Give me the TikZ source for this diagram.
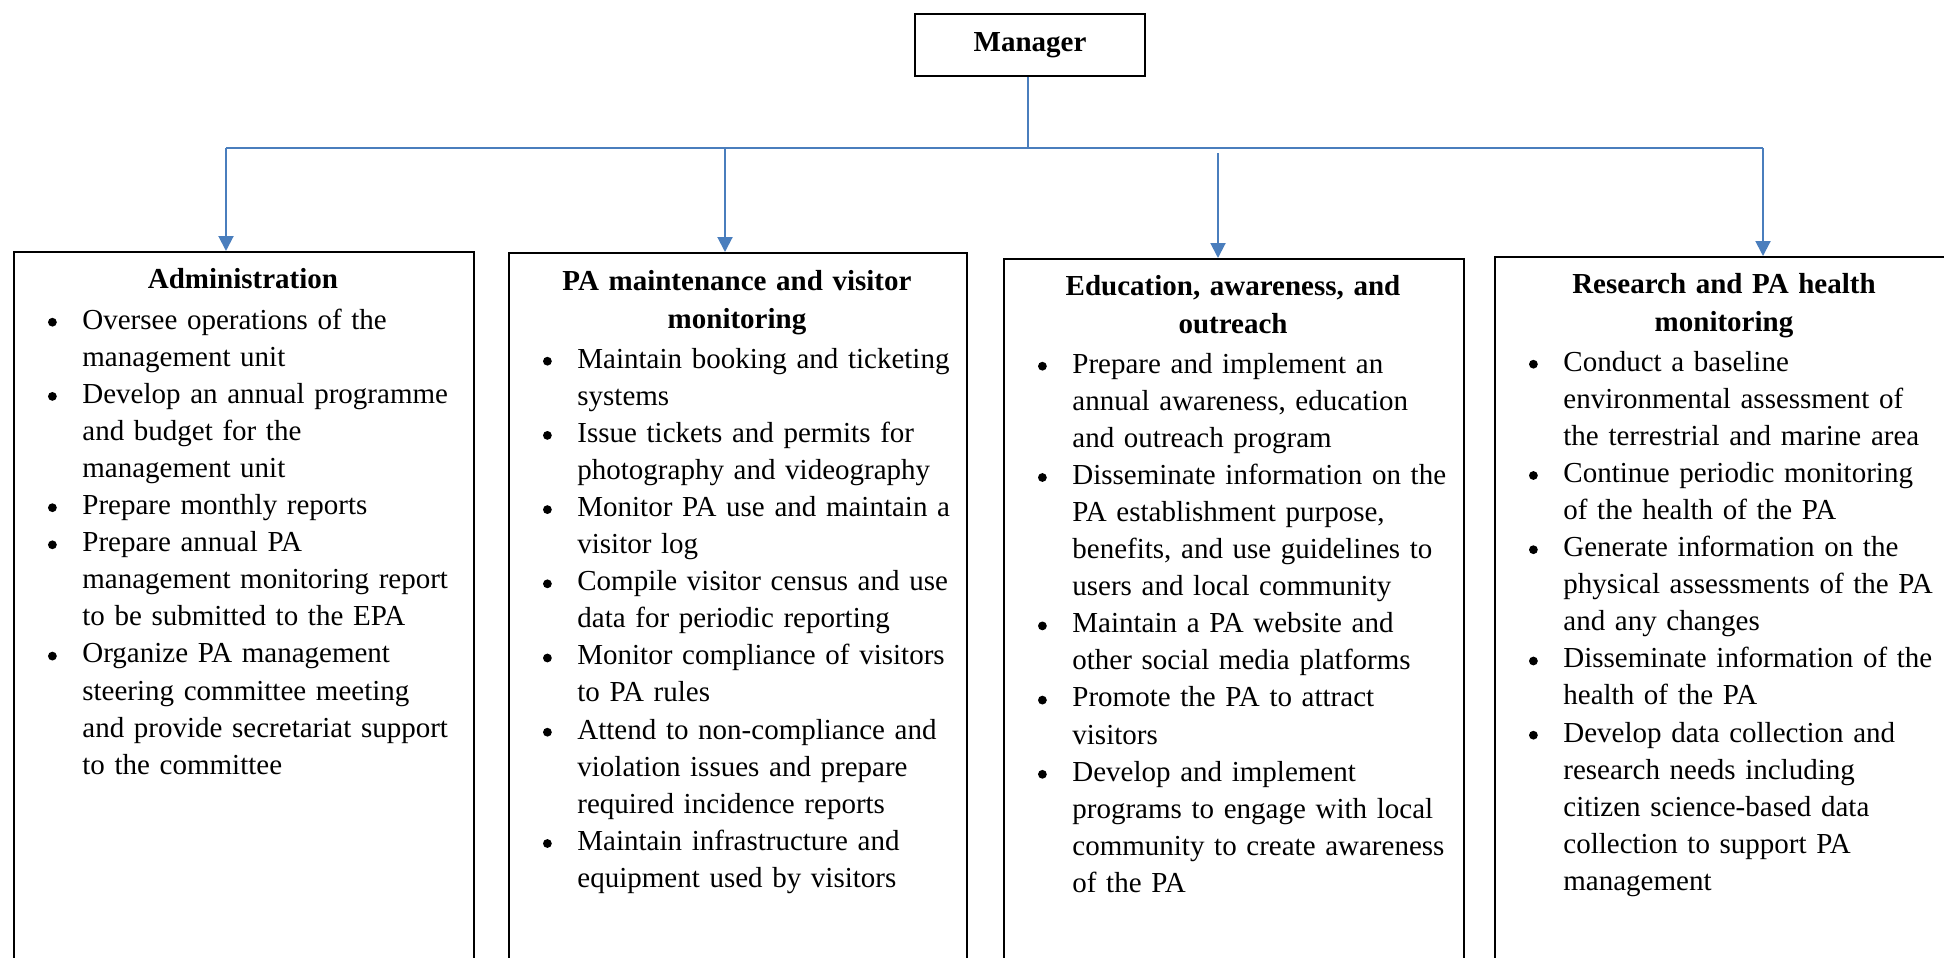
\documentclass[tikz,border=0pt]{standalone}
\usepackage{fontspec}
\setmainfont{Liberation Serif}
\usetikzlibrary{arrows.meta}
\definecolor{connblue}{RGB}{74,126,189}
\newcommand{\bul}{\makebox[19.5pt][l]{\hspace{2.3pt}\tikz[baseline=0pt,x=1pt,y=1pt]{\fill[black] (2.2,3.4) circle[radius=2.2];}}}
\newcommand{\bitem}[1]{\noindent\hangindent=19.5pt\hangafter=1\bul#1\par}
\begin{document}
\begin{tikzpicture}[x=0.5pt,y=-0.5pt,
  box/.style={draw=black,line width=0.9pt,inner sep=0pt,anchor=north west,minimum height=380pt},
  conn/.style={draw=connblue,line width=1pt},
  arr/.style={conn,-{Triangle[width=7.5pt,length=7.5pt]}},
  ttl/.style={font=\fontsize{14.5pt}{19.3pt}\selectfont\bfseries,text width=230pt,align=center,anchor=base,inner sep=0pt},
  body/.style={font=\fontsize{14.5pt}{18.55pt}\selectfont,text width=215pt,align=left,anchor=base west,inner sep=0pt},
]
\clip (0,0) rectangle (1944,958);
\useasboundingbox (0,0) rectangle (1944,958);
\fill[white] (0,0) rectangle (1944,958);

% manager
\node[draw=black,line width=0.9pt,minimum width=115pt,minimum height=31pt,inner sep=0pt,
      font=\fontsize{14.5pt}{17.5pt}\selectfont\bfseries] (mgr) at (1030,45) {Manager};

% boxes
\node[box,minimum width=230pt] (admin) at (13,251) {};
\node[box,minimum width=229pt] (pam) at (508,252) {};
\node[box,minimum width=230pt] (edu) at (1003,258) {};
\node[box,minimum width=230pt] (res) at (1494,256) {};

% connectors
\coordinate (hub) at (1028,148);
\coordinate (j1) at (226,148);
\coordinate (j2) at (725,148);
\coordinate (j3) at (1218,153);
\coordinate (j4) at (1763,148);
\draw[conn] (mgr.south -| hub) -- (hub);
\draw[conn] (j1) -- (j4);
\draw[arr] (j1) -- (j1 |- admin.north);
\draw[arr] (j2) -- (j2 |- pam.north);
\draw[arr] (j3) -- (j3 |- edu.north);
\draw[arr] (j4) -- (j4 |- res.north);

% titles
\node[ttl] (t1) at (243,288) {Administration};
\node[ttl] (t2) at (737,290) {PA maintenance and visitor\\monitoring};
\node[ttl] (t3) at (1233,295) {Education, awareness, and\\outreach};
\node[ttl] (t4) at (1724,293) {Research and PA health\\monitoring};

% bodies
\node[body] (b1) at (43,329) {%
\bitem{Oversee operations of the\newline management unit}%
\bitem{Develop an annual programme\newline and budget for the\newline management unit}%
\bitem{Prepare monthly reports}%
\bitem{Prepare annual PA\newline management monitoring report\newline to be submitted to the EPA}%
\bitem{Organize PA management\newline steering committee meeting\newline and provide secretariat support\newline to the committee}};

\node[body] (b2) at (538,368) {%
\bitem{Maintain booking and ticketing\newline systems}%
\bitem{Issue tickets and permits for\newline photography and videography}%
\bitem{Monitor PA use and maintain a\newline visitor log}%
\bitem{Compile visitor census and use\newline data for periodic reporting}%
\bitem{Monitor compliance of visitors\newline to PA rules}%
\bitem{Attend to non-compliance and\newline violation issues and prepare\newline required incidence reports}%
\bitem{Maintain infrastructure and\newline equipment used by visitors}};

\node[body] (b3) at (1033,373) {%
\bitem{Prepare and implement an\newline annual awareness, education\newline and outreach program}%
\bitem{Disseminate information on the\newline PA establishment purpose,\newline benefits, and use guidelines to\newline users and local community}%
\bitem{Maintain a PA website and\newline other social media platforms}%
\bitem{Promote the PA to attract\newline visitors}%
\bitem{Develop and implement\newline programs to engage with local\newline community to create awareness\newline of the PA}};

\node[body] (b4) at (1524,371) {%
\bitem{Conduct a baseline\newline environmental assessment of\newline the terrestrial and marine area}%
\bitem{Continue periodic monitoring\newline of the health of the PA}%
\bitem{Generate information on the\newline physical assessments of the PA\newline and any changes}%
\bitem{Disseminate information of the\newline health of the PA}%
\bitem{Develop data collection and\newline research needs including\newline citizen science-based data\newline collection to support PA\newline management}};
\end{tikzpicture}
\end{document}
